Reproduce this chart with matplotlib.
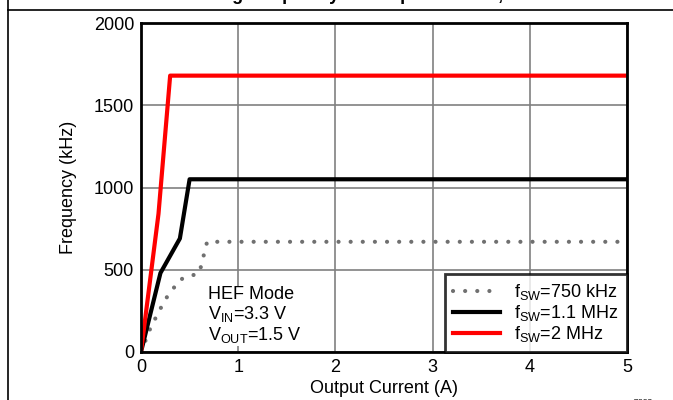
import numpy as np
import matplotlib.pyplot as plt
from matplotlib.lines import Line2D

plt.rcParams['font.family'] = ['Liberation Sans', 'DejaVu Sans']

i_750 = [0, 0.1, 0.25, 0.4, 0.6, 0.68, 5]
f_750 = [0, 150, 320, 440, 480, 670, 670]
i_11 = [0, 0.2, 0.4, 0.5, 5]
f_11 = [0, 480, 690, 1050, 1050]
i_2 = [0, 0.18, 0.3, 5]
f_2 = [0, 840, 1680, 1680]

xticks = [0, 1, 2, 3, 4, 5]
yticks = [0, 500, 1000, 1500, 2000]

fig = plt.figure(figsize=(6.73, 4.0), dpi=100)
ax = fig.add_axes([0.2095, 0.12, 0.7222, 0.8225])

ax.plot(i_750, f_750, color="#707070", lw=3, ls=(0, (0.01, 2.9)),
        dash_capstyle="round", label=r"f$_{\mathregular{SW}}$=750 kHz")
ax.plot(i_11, f_11, color="black", lw=3, label=r"f$_{\mathregular{SW}}$=1.1 MHz")
ax.plot(i_2, f_2, color="#ff0000", lw=3, label=r"f$_{\mathregular{SW}}$=2 MHz")

ax.set_xlim(0, 5)
ax.set_ylim(0, 2000)
ax.set_xticks(xticks)
ax.set_yticks(yticks)
ax.tick_params(length=0, labelsize=13, pad=5)
ax.grid(color="#808080", lw=1.2)
for s in ax.spines.values():
    s.set_linewidth(2)
ax.set_xlabel("Output Current (A)", fontsize=13, labelpad=3)
ax.set_ylabel("Frequency (kHz)", fontsize=13, labelpad=12)

ax.text(0.69, 400, "HEF Mode\n" + r"V$_{\mathregular{IN}}$=3.3 V" + "\n" +
        r"V$_{\mathregular{OUT}}$=1.5 V", fontsize=13, va="top", ha="left",
        linespacing=1.05,
        bbox=dict(facecolor="white", edgecolor="none", pad=1))

leg = ax.legend(loc="lower right", fontsize=13, frameon=True, fancybox=False,
                borderaxespad=0, handlelength=2.6, labelspacing=0.05,
                borderpad=0.45, handletextpad=0.8)
leg.get_frame().set_edgecolor("black")
leg.get_frame().set_linewidth(2)

fig.text(0.56, 1.001, "Switching Frequency vs Output Current, HEF Mode",
         fontsize=13, fontweight="bold", ha="center", va="baseline")
fig.text(0.955, -0.005, "C003", fontsize=6, ha="center", va="center")

fig.add_artist(Line2D([8 / 673, 8 / 673], [0, 1], color="black", lw=1.2,
                      transform=fig.transFigure))
fig.add_artist(Line2D([8 / 673, 1], [1 - 10 / 400, 1 - 10 / 400], color="black",
                      lw=1.2, transform=fig.transFigure))

fig.savefig("out.png", dpi=100)
